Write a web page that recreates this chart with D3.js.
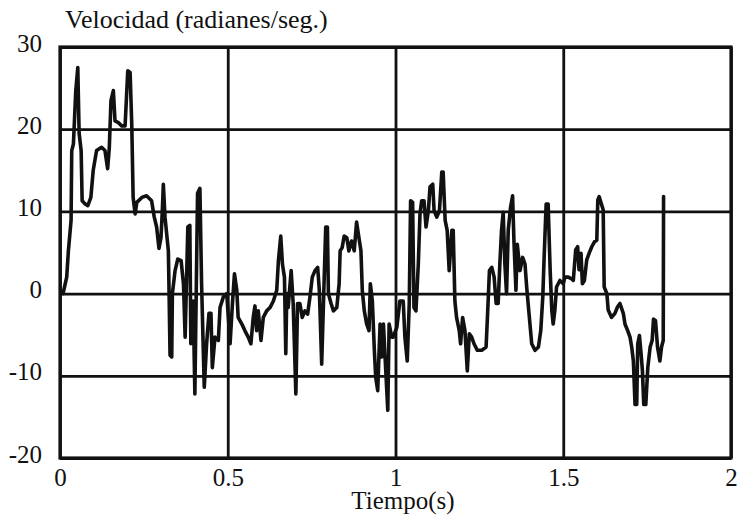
<!DOCTYPE html>
<html>
<head>
<meta charset="utf-8">
<script src="https://cdn.jsdelivr.net/npm/d3@7"></script>
<style>
  body { margin: 0; background: #fff; }
  svg text { font-family: "Liberation Serif", "Times New Roman", serif; fill: #111; }
</style>
</head>
<body>
<div id="chart"></div>
<script>
// tiempo (s) y velocidad (rad/s)
const tiempo = [
    0.009, 0.020, 0.025, 0.033, 0.035, 0.040, 0.047, 0.053, 0.057, 0.063,
    0.066, 0.075, 0.083, 0.092, 0.099, 0.109, 0.124, 0.134, 0.142, 0.147,
    0.152, 0.159, 0.164, 0.174, 0.184, 0.194, 0.202, 0.209, 0.214, 0.218,
    0.224, 0.229, 0.244, 0.258, 0.273, 0.281, 0.288, 0.295, 0.301, 0.305,
    0.308, 0.313, 0.323, 0.325, 0.328, 0.333, 0.335, 0.343, 0.351, 0.361,
    0.368, 0.373, 0.381, 0.387, 0.390, 0.397, 0.402, 0.410, 0.417, 0.422,
    0.430, 0.437, 0.444, 0.450, 0.454, 0.462, 0.472, 0.477, 0.487, 0.497,
    0.507, 0.514, 0.520, 0.527, 0.531, 0.542, 0.551, 0.561, 0.569, 0.576,
    0.581, 0.586, 0.591, 0.599, 0.606, 0.616, 0.626, 0.636, 0.646, 0.651,
    0.658, 0.663, 0.669, 0.673, 0.676, 0.680, 0.689, 0.695, 0.703, 0.708,
    0.715, 0.722, 0.730, 0.738, 0.745, 0.752, 0.760, 0.768, 0.773, 0.780,
    0.787, 0.792, 0.797, 0.800, 0.808, 0.815, 0.825, 0.832, 0.835, 0.841,
    0.847, 0.855, 0.861, 0.869, 0.877, 0.884, 0.891, 0.897, 0.901, 0.907,
    0.914, 0.921, 0.925, 0.931, 0.937, 0.941, 0.947, 0.954, 0.959, 0.964,
    0.971, 0.977, 0.981, 0.989, 0.993, 1.004, 1.013, 1.023, 1.028, 1.035,
    1.041, 1.045, 1.051, 1.055, 1.061, 1.068, 1.073, 1.078, 1.085, 1.091,
    1.098, 1.103, 1.111, 1.115, 1.123, 1.131, 1.138, 1.142, 1.148, 1.154,
    1.160, 1.168, 1.172, 1.177, 1.182, 1.190, 1.194, 1.200, 1.207, 1.214,
    1.220, 1.227, 1.234, 1.244, 1.257, 1.270, 1.274, 1.280, 1.287, 1.294,
    1.300, 1.306, 1.311, 1.316, 1.321, 1.326, 1.331, 1.336, 1.343, 1.349,
    1.353, 1.359, 1.363, 1.371, 1.379, 1.386, 1.391, 1.399, 1.406, 1.416,
    1.426, 1.433, 1.439, 1.443, 1.449, 1.455, 1.461, 1.466, 1.470, 1.475,
    1.480, 1.490, 1.500, 1.505, 1.515, 1.525, 1.530, 1.537, 1.543, 1.547,
    1.553, 1.557, 1.563, 1.570, 1.577, 1.585, 1.593, 1.600, 1.603, 1.607,
    1.613, 1.619, 1.622, 1.630, 1.634, 1.644, 1.654, 1.662, 1.669, 1.679,
    1.684, 1.692, 1.699, 1.704, 1.709, 1.714, 1.719, 1.722, 1.727, 1.732,
    1.736, 1.740, 1.746, 1.752, 1.759, 1.765, 1.769, 1.775, 1.781, 1.788,
    1.793, 1.798, 1.799
];
const velocidad = [
    0, 2, 5.2, 8.9, 17.4, 18.2, 24.7, 27.5, 19.5, 17.4,
    11.3, 10.9, 10.7, 11.7, 15, 17.4, 17.8, 17.4, 15.2, 17.8,
    23.5, 24.7, 21, 20.8, 20.4, 20.4, 27.1, 26.9, 20.4, 11.7,
    9.7, 11.1, 11.7, 11.9, 11.3, 9.3, 8.1, 5.5, 6.8, 10.1,
    13.3, 9.3, 5.2, 0.4, -7.5, -7.7, 0, 2.8, 4.2, 4,
    1.2, -5.3, 8.1, 8.3, -6.1, -0.9, -12.2, 12.2, 12.8, 1.2,
    -11.4, -6.1, -2.4, -2.4, -9, -5.3, -5.7, -1.7, -0.4, 0,
    -6.1, -1.2, 2.4, 0.4, -2.9, -3.7, -4.5, -5.3, -6.1, -2.9,
    -1.5, -4.5, -2.1, -5.7, -2.9, -2.1, -1.7, -0.9, 0.4, 4,
    7, 3.6, 2, -7.3, 0, -1.7, 2.8, -1.2, -12.2, -1.2,
    -1.2, -2.9, -2.1, -2.5, -0.4, 2, 2.8, 3.2, 0.4, -8.6,
    1.2, 8.1, 8.1, 0, -1.2, -2.1, -1.7, 1.2, 5.2, 5.6,
    7, 6.8, 5.2, 6.4, 5.2, 8.7, 6.8, 5.2, 0.4, -2.1,
    -3.7, -4.5, 1.2, -0.9, -6.9, -10.2, -11.8, -3.7, -7.7, -3.7,
    -9.4, -14.2, -3.7, -5.3, -5.3, -4.1, -0.9, -0.9, -5.3, -8.2,
    -1.2, 11.3, 11.1, -1.7, -2.1, 3.6, 9.7, 11.3, 11.3, 8.1,
    10.1, 13, 13.3, 10.1, 9.3, 10.1, 14.8, 14.8, 8.9, 7.7,
    2.8, 7.7, 7.7, -0.9, -2.9, -4.5, -6.1, -2.9, -4.5, -9.4,
    -4.9, -5.3, -6.1, -6.9, -6.9, -6.5, -2.9, 2.8, 3.2, 2,
    -1.2, -1.2, 3.6, 7.7, 9.9, 3.6, 0, 7.7, 10.5, 11.9,
    6.4, 0.4, 6, 2.8, 4.4, 3.6, 0.8, -2.9, -6.1, -6.9,
    -6.5, -4.5, -0.4, 4.4, 10.9, 10.9, 2.8, -2.1, -3.7, -2,
    0.8, 1.6, 1.2, 2, 2, 1.8, 1.6, 5.3, 5.7, 2.9,
    4.9, 1.2, 1.6, 4.1, 4.9, 5.7, 6.3, 6.5, 11.4, 11.8,
    11, 10.2, 0.8, 0, -2, -2.9, -2.4, -1.6, -1.2, -2.4,
    -3.7, -4.5, -5.3, -6.5, -8.2, -13.5, -13.5, -6.1, -5.1, -7.3,
    -9.4, -13.5, -13.5, -9, -6.5, -5.7, -3.1, -3.3, -6.5, -8.2,
    -6.5, -5.7, 11.8
];
const xTicks = [0, 0.5, 1, 1.5, 2];
const yTicks = [-20, -10, 0, 10, 20, 30];

const margin = { top: 47, right: 7, bottom: 63, left: 60 },
    width = 738 - margin.left - margin.right,
    height = 521 - margin.top - margin.bottom;

const svg = d3.select("#chart").append("svg")
    .attr("width", 738)
    .attr("height", 521);

const g = svg.append("g")
    .attr("transform", `translate(${margin.left},${margin.top})`);

const x = d3.scaleLinear().domain([0, 2]).range([0, width]);
const y = d3.scaleLinear().domain([-20, 30]).range([height, 0]);

// plain hyphen for negatives, like the original
const plain = function (d) { return String(d); };

// rejilla + etiquetas del eje x
const xAxis = g.append("g")
    .attr("transform", `translate(0,${height})`)
    .call(d3.axisBottom(x).tickValues(xTicks).tickSize(-height).tickPadding(0).tickFormat(plain));
xAxis.select(".domain").remove();
xAxis.selectAll("line").attr("stroke", "#111").attr("stroke-width", 2.8);
xAxis.selectAll("text")
    .attr("y", 28).attr("dy", 0)
    .style("font-size", "25px");

const yAxis = g.append("g")
    .call(d3.axisLeft(y).tickValues(yTicks).tickSize(-width).tickPadding(0).tickFormat(plain));
yAxis.select(".domain").remove();
yAxis.selectAll("line").attr("stroke", "#111").attr("stroke-width", 2.8);
yAxis.selectAll("text")
    .attr("x", -18).attr("dy", "0.32em").attr("y", -4)
    .style("font-size", "25px");

// marco
g.append("rect")
    .attr("width", width)
    .attr("height", height)
    .attr("fill", "none")
    .attr("stroke", "#111")
    .attr("stroke-width", 3.2);

const line = d3.line()
    .x(function (d, i) { return x(tiempo[i]); })
    .y(function (d) { return y(d); });

g.append("path")
    .datum(velocidad)
    .attr("d", line)
    .attr("fill", "none")
    .attr("stroke", "#111")
    .attr("stroke-width", 3.6)
    .attr("stroke-linejoin", "round")
    .attr("stroke-linecap", "round");

svg.append("text")
    .attr("x", 65)
    .attr("y", 28)
    .style("font-size", "26px")
    .text("Velocidad (radianes/seg.)");

svg.append("text")
    .attr("x", 403)
    .attr("y", 509)
    .attr("text-anchor", "middle")
    .style("font-size", "25px")
    .text("Tiempo(s)");
</script>
</body>
</html>
